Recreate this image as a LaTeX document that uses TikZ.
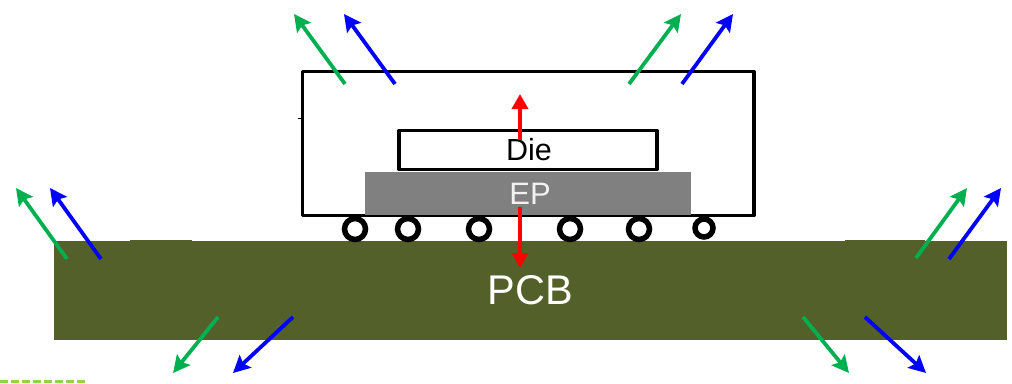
\documentclass[tikz,border=0pt]{standalone}
\usepackage{fontspec}
\setmainfont{Liberation Sans}
\usetikzlibrary{arrows.meta}
\definecolor{pcbgreen}{HTML}{546029}
\definecolor{epgray}{HTML}{808080}
\definecolor{heatgreen}{HTML}{00B050}
\definecolor{leafgreen}{HTML}{92D050}
\tikzset{
    box/.style={draw,line width=3.2pt,inner sep=0pt,line join=round},
    slab/.style={inner sep=0pt},
    ball/.style={draw,circle,fill=white,line width=5.5pt,inner sep=0pt,minimum size=21pt},
    flow/.style={line width=3.8pt,-{Stealth[length=17pt,width=17pt,inset=3pt]}},
    hotflow/.style={red,line width=4pt,-{Triangle[length=15pt,width=16pt]}}
}
\begin{document}
\begin{tikzpicture}[x=1pt,y=-1pt]
                \useasboundingbox (0,0) rectangle (1012,383);
                \draw[leafgreen,line width=3.5pt,dash pattern=on 8pt off 3pt] (0,381.5) -- (87,381.5);
                % board
                \node[slab,fill=pcbgreen,text=white,minimum width=953pt,minimum height=99pt,font=\fontsize{41.5}{48}\selectfont] (PCB) at (530.5,290.5) {PCB};
                \fill[pcbgreen] (130,240) rectangle (192,241.5);
                \fill[pcbgreen] (845,240) rectangle (925,241.5);
                % package with its solder balls
                \node[ball] (B1) at (355,229) {};
                \node[ball] (B2) at (408,229) {};
                \node[ball] (B3) at (479,229) {};
                \node[ball] (B4) at (570,229) {};
                \node[ball] (B5) at (639,229) {};
                \node[ball,minimum size=18pt] (B6) at (704,228) {};
                \node[box,fill=white,minimum width=451.5pt,minimum height=144pt] (P) at (528.25,143.5) {};
                \draw[line width=1pt] (298,118) -- (303,118);
                \node[slab,fill=epgray,text=white!90!epgray,minimum width=326pt,minimum height=43pt,font=\fontsize{31}{36}\selectfont] (EP) at (528,193.5) {\hspace*{4pt}EP};
                \node[box,minimum width=258pt,minimum height=39pt,font=\fontsize{30.5}{36}\selectfont] (Die) at (528,150) {\hspace*{2pt}Die};
                % heat leaving the die
                \coordinate (UpS) at (520,140);
                \coordinate (UpE) at (520,94);
                \coordinate (DownS) at (520,207);
                \coordinate (DownE) at (520,268);
                \draw[hotflow] (UpS) -- (UpE);
                \draw[hotflow] (DownS) -- (DownE);
                % top of package
                \coordinate (G1S) at (345,84);
                \coordinate (G1E) at (294,14);
                \coordinate (C1S) at (395,84);
                \coordinate (C1E) at (344,14);
                \coordinate (G2S) at (629,84);
                \coordinate (G2E) at (681,14);
                \coordinate (C2S) at (682,84);
                \coordinate (C2E) at (733,14);
                \draw[flow,heatgreen] (G1S) -- (G1E);
                \draw[flow,blue] (C1S) -- (C1E);
                \draw[flow,heatgreen] (G2S) -- (G2E);
                \draw[flow,blue] (C2S) -- (C2E);
                % top of board
                \coordinate (G3S) at (67,259);
                \coordinate (G3E) at (16,188);
                \coordinate (C3S) at (101,259);
                \coordinate (C3E) at (50,188);
                \coordinate (G4S) at (916,258);
                \coordinate (G4E) at (967,188);
                \coordinate (C4S) at (949,259);
                \coordinate (C4E) at (1001,188);
                \draw[flow,heatgreen] (G3S) -- (G3E);
                \draw[flow,blue] (C3S) -- (C3E);
                \draw[flow,heatgreen] (G4S) -- (G4E);
                \draw[flow,blue] (C4S) -- (C4E);
                % bottom of board
                \coordinate (G5S) at (218,317);
                \coordinate (G5E) at (173,373);
                \coordinate (C5S) at (293,317);
                \coordinate (C5E) at (233,373);
                \coordinate (G6S) at (803,317);
                \coordinate (G6E) at (849,373);
                \coordinate (C6S) at (865,317);
                \coordinate (C6E) at (926,373);
                \draw[flow,heatgreen] (G5S) -- (G5E);
                \draw[flow,blue] (C5S) -- (C5E);
                \draw[flow,heatgreen] (G6S) -- (G6E);
                \draw[flow,blue] (C6S) -- (C6E);
            \end{tikzpicture}
\end{document}
